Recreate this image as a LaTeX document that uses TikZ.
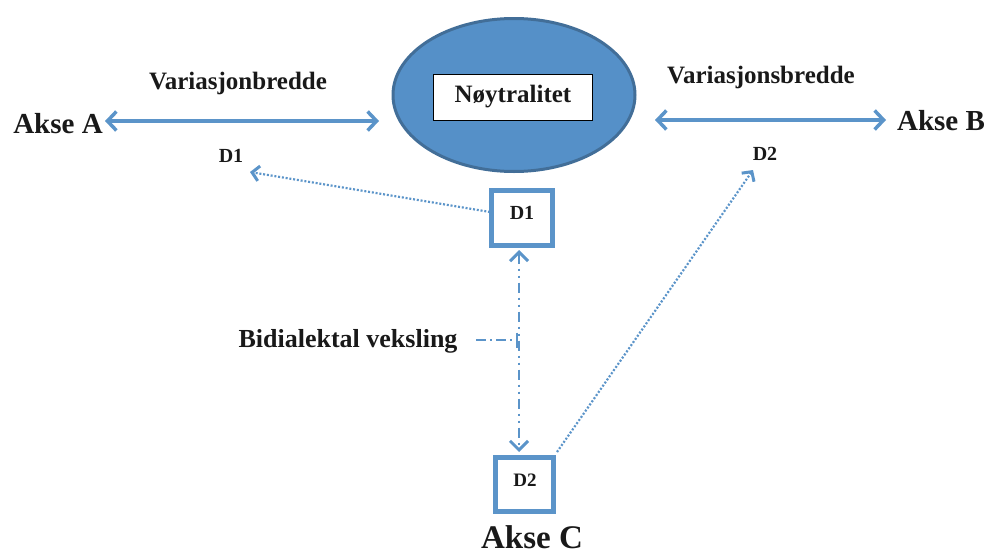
\documentclass[tikz,border=0pt]{standalone}
\usepackage{fontspec}
\setmainfont{Liberation Serif}
\usetikzlibrary{arrows.meta,shapes.geometric}
\definecolor{lb}{RGB}{91,148,201}
\definecolor{ef}{RGB}{85,144,200}
\definecolor{eb}{RGB}{66,110,152}
\begin{document}
\begin{tikzpicture}[x=1pt,y=-1pt,
  txt/.style={font=\bfseries\fontsize{#1}{#1}\selectfont, inner sep=0pt, text=black!90},
  txt/.default=25,
  mainarrow/.style={draw=lb, line width=3.5pt, {Straight Barb[length=9pt,width=19pt]}-{Straight Barb[length=9pt,width=19pt]}},
  dotarrow/.style={draw=lb, line width=2.2pt, dash pattern=on 2pt off 1.8pt, -{Straight Barb[length=7pt,width=15pt,line width=3pt]}},
  dashdot/.style={draw=lb, line width=2.4pt, dash pattern=on 10pt off 5pt on 2pt off 5pt on 2pt off 5pt},
  dbox/.style={draw=lb, line width=5pt, fill=white, inner sep=0pt},
]
\useasboundingbox (0,0) rectangle (988,554);

% ellipse and neutrality box
\node[ellipse, draw=eb, line width=3pt, fill=ef, minimum width=242pt, minimum height=153pt, inner sep=0pt] (ell) at (514,95) {};
\node[draw=black, line width=0.8pt, fill=white, minimum width=159pt, minimum height=46pt, txt] (neu) at (513,97) {Nøytralitet};

% axis labels
\node[txt=29] (akseA) at (58,124) {Akse A};
\node[txt=29] (akseB) at (941,121) {Akse B};
\node[txt=33] (akseC) at (532,537) {Akse C};

\node[txt, anchor=base] (varA) at (238,89) {Variasjonbredde};
\node[txt, anchor=base] (varB) at (761,83) {Variasjonsbredde};

\node[txt=20, anchor=base] (d1lab) at (231,162) {D1};
\node[txt=20, anchor=base] (d2lab) at (765,160) {D2};

\node[txt=26, anchor=base] (bidi) at (348,347) {Bidialektal veksling};

% D boxes
\node[dbox, minimum width=61pt, minimum height=55pt] (d1box) at (522,218) {};
\node[txt=20, anchor=base] (d1t) at (522,219) {D1};
\node[dbox, minimum width=58pt, minimum height=54pt] (d2box) at (524.5,484.5) {};
\node[txt=19, anchor=base] (d2t) at (525,486) {D2};

% coordinates
\coordinate (aL) at (105,121);
\coordinate (aR) at (379,121);
\coordinate (bL) at (655,120);
\coordinate (bR) at (886,120);
\coordinate (d1from) at (490,212);
\coordinate (d1to) at (250,172);
\coordinate (d2from) at (557,452);
\coordinate (d2to) at (753,170);
\coordinate (vTop) at (519,250);
\coordinate (vBot) at (519,452);
\coordinate (tL) at (476,340);
\coordinate (tR) at (518,340);

% connectors
\draw[mainarrow] (aL) -- (aR);
\draw[mainarrow] (bL) -- (bR);
\draw[dotarrow] (d1from) -- (d1to);
\draw[dotarrow] (d2from) -- (d2to);
\draw[dashdot, {Straight Barb[length=9pt,width=18pt,line width=3pt]}-{Straight Barb[length=9pt,width=18pt,line width=3pt]}] (vTop) -- (vBot);
\draw[draw=lb, line width=1.8pt, dash pattern=on 10pt off 4pt on 2pt off 4pt, -{Bar[width=15pt,line width=2pt]}] (tL) -- (tR);
\end{tikzpicture}
\end{document}
